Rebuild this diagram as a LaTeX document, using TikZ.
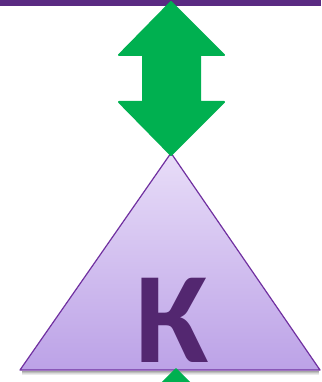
\documentclass[tikz,border=0pt]{standalone}
\usepackage{fontspec}
\newfontfamily\letterfont{Carlito}
\usetikzlibrary{shadings}
\definecolor{arrowgreen}{HTML}{00B050}
\definecolor{linepurple}{HTML}{5A2A82}
\definecolor{edgepurple}{HTML}{7030A0}
\definecolor{letterpurple}{HTML}{532770}
\definecolor{toplav}{HTML}{E8DDF8}
\definecolor{botlav}{HTML}{BCA2E7}

\begin{document}
\begin{tikzpicture}[x=1pt,y=-1pt]
  \useasboundingbox (0,0) rectangle (321,382);
  % top bar
  \fill[linepurple] (0,-1) rectangle (321,6);
  % shadow under the base
  \foreach \d/\o in {1/0.35,2/0.25,3/0.15,4/0.08}
    \draw[black,opacity=\o,line width=1pt] (22,370+\d) -- (319,370+\d);
  % triangle
  \coordinate (apex) at (171,153);
  \coordinate (left) at (20,370);
  \coordinate (right) at (320,370);
  \shade[top color=toplav,bottom color=botlav] (apex) -- (left) -- (right) -- cycle;
  \draw[edgepurple,line width=1.2pt,line join=round] (apex) -- (left) -- (right) -- cycle;
  \node[anchor=base,inner sep=0pt,text=letterpurple,
        font=\letterfont\bfseries\fontsize{130}{130}\selectfont] (letter) at (172,362) {К};
  % double arrow
  \filldraw[arrowgreen,line width=2pt,line join=round]
    (171,2) -- (224,55) -- (200,55) -- (200,102) -- (224,102) -- (171,155)
    -- (119,102) -- (143,102) -- (143,55) -- (119,55) -- cycle;
  % arrow tip below
  \filldraw[arrowgreen,line width=1.5pt,line join=round] (176,369) -- (196,389) -- (156,389) -- cycle;
\end{tikzpicture}
\end{document}
